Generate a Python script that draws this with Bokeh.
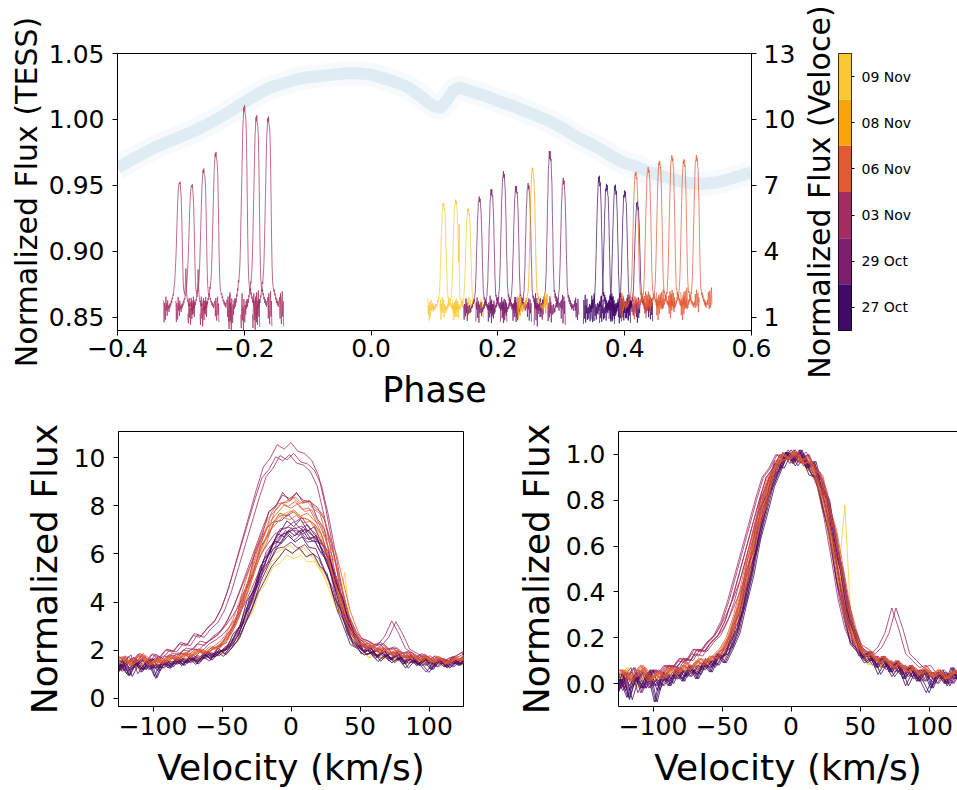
from bokeh.plotting import figure
from bokeh.models import Range1d, LinearAxis, FixedTicker
from bokeh.layouts import column, row
from bokeh.embed import file_html
from bokeh.resources import INLINE

FONT = "DejaVu Sans"

# ---------------- data ----------------
DATES = ["27 Oct", "29 Oct", "03 Nov", "06 Nov", "08 Nov", "09 Nov"]
DATE_COLORS = ["#420a68", "#7c1d6d", "#a52c60", "#e35933", "#fba40a", "#f8c932"]

TESS_PHASE = [-0.40, -0.38, -0.36, -0.34, -0.32, -0.30, -0.28, -0.26, -0.24, -0.22,
              -0.20, -0.18, -0.16, -0.14, -0.12, -0.10, -0.08, -0.06, -0.04, -0.02,
              0.00, 0.02, 0.04, 0.06, 0.08, 0.09, 0.10, 0.11, 0.12, 0.13, 0.14,
              0.16, 0.18, 0.20, 0.22, 0.24, 0.26, 0.28, 0.30, 0.32, 0.34, 0.36,
              0.38, 0.40, 0.42, 0.44, 0.46, 0.48, 0.50, 0.52, 0.54, 0.56, 0.58, 0.60]
TESS_FLUX = [0.963, 0.969, 0.974, 0.979, 0.983, 0.987, 0.991, 0.996, 1.001, 1.007,
             1.013, 1.019, 1.024, 1.027, 1.030, 1.032, 1.033, 1.034, 1.035, 1.035,
             1.034, 1.031, 1.028, 1.024, 1.017, 1.013, 1.010, 1.009, 1.015, 1.022, 1.024,
             1.021, 1.018, 1.014, 1.011, 1.007, 1.003, 0.999, 0.994, 0.988, 0.983, 0.978,
             0.972, 0.967, 0.964, 0.960, 0.957, 0.954, 0.952, 0.951, 0.952, 0.954, 0.957, 0.960]

# velocity grid of the line profiles (km/s)
VELOCITY = list(range(-200, 201, 5))

# normalised line profiles (two per night, one for the single 08 Nov spectrum)
PROFILE_27OCT_A = [0.07, -0.08, 0.11, -0.04, 0.02, -0.10, 0.08, 0.00, -0.06, 0.12, -0.09, 0.04, -0.02, 0.09, -0.07,
                   0.02, -0.06, 0.03, -0.02, 0.05, -0.08,
                   0.04, -0.01, 0.06, 0.01, 0.08, 0.02, 0.09, 0.05, 0.13, 0.09,
                   0.15, 0.22, 0.35, 0.47, 0.63, 0.74, 0.86, 0.93, 1.01,
                   0.97, 1.02, 0.94, 0.97, 0.86, 0.80, 0.60, 0.49, 0.28, 0.22,
                   0.11, 0.14, 0.07, 0.12, 0.05, 0.10, 0.02, 0.08, 0.01, 0.06, -0.02, 0.05, 0.00, 0.07, 0.01, 0.06,
                   -0.06, 0.10, 0.00, 0.13, -0.08, 0.06, 0.11, -0.04, 0.08, -0.10, 0.04, 0.12, -0.02, 0.08, -0.06]
PROFILE_27OCT_B = [-0.05, 0.09, -0.11, 0.03, 0.10, -0.07, 0.01, 0.12, -0.04, -0.09, 0.06, 0.02, -0.08, 0.11, 0.00,
                   -0.04, 0.05, -0.07, 0.03, -0.02, 0.06,
                   -0.03, 0.05, 0.00, 0.07, 0.03, 0.06, 0.04, 0.11, 0.07, 0.12,
                   0.13, 0.25, 0.31, 0.50, 0.58, 0.77, 0.83, 0.96, 0.94,
                   1.00, 0.95, 0.99, 0.91, 0.90, 0.77, 0.64, 0.45, 0.31, 0.17,
                   0.14, 0.09, 0.11, 0.04, 0.09, 0.03, 0.07, -0.01, 0.05, 0.02, -0.04, 0.03, 0.06, -0.01, 0.04, 0.02,
                   0.09, -0.05, 0.07, -0.10, 0.02, 0.11, -0.06, 0.05, -0.02, 0.10, -0.08, 0.03, 0.09, -0.04, 0.06]
PROFILE_29OCT_A = [-0.04, 0.08, 0.02, -0.07, 0.10, 0.04, -0.08, 0.06, 0.00, -0.05, 0.11, -0.02, 0.07, -0.09, 0.04,
                   0.04, -0.03, 0.01, 0.05, -0.02, 0.02,
                   -0.01, 0.04, 0.02, 0.06, 0.03, 0.08, 0.06, 0.10, 0.08, 0.14,
                   0.16, 0.27, 0.36, 0.53, 0.64, 0.81, 0.87, 0.97, 0.98,
                   1.02, 0.97, 1.00, 0.93, 0.89, 0.76, 0.65, 0.45, 0.33, 0.18,
                   0.15, 0.10, 0.12, 0.07, 0.10, 0.05, 0.08, 0.03, 0.06, 0.01, 0.05, 0.02, 0.04, 0.00, 0.05, 0.03,
                   0.08, 0.00, 0.10, -0.05, 0.06, 0.02, -0.07, 0.09, 0.03, -0.03, 0.11, -0.06, 0.04, 0.08, -0.01]
PROFILE_29OCT_B = [0.06, -0.07, 0.03, 0.10, -0.04, -0.09, 0.07, 0.01, 0.11, -0.06, 0.02, 0.08, -0.10, 0.05, -0.01,
                   -0.02, 0.03, 0.07, -0.04, 0.02, -0.01,
                   0.03, 0.01, 0.05, 0.02, 0.07, 0.04, 0.09, 0.07, 0.11, 0.12,
                   0.19, 0.24, 0.40, 0.49, 0.67, 0.76, 0.90, 0.93, 1.01,
                   0.96, 1.01, 0.95, 0.96, 0.86, 0.80, 0.61, 0.49, 0.29, 0.21,
                   0.12, 0.13, 0.08, 0.11, 0.06, 0.09, 0.04, 0.07, 0.02, 0.06, 0.03, 0.00, 0.05, 0.03, 0.02, 0.06,
                   -0.05, 0.07, 0.01, 0.10, -0.08, 0.04, 0.09, -0.02, 0.06, -0.09, 0.03, 0.11, -0.04, 0.02, 0.07]
PROFILE_03NOV_A = [0.04, -0.06, 0.10, 0.00, -0.05, 0.08, -0.09, 0.06, 0.02, -0.07, 0.11, 0.00, 0.06, -0.04, 0.08,
                   0.01, 0.04, -0.01, 0.05, 0.02, 0.06,
                   0.04, 0.08, 0.06, 0.10, 0.09, 0.13, 0.12, 0.17, 0.20, 0.24,
                   0.30, 0.37, 0.45, 0.56, 0.68, 0.80, 0.88, 0.95, 0.98,
                   1.00, 0.99, 1.01, 0.96, 0.92, 0.84, 0.70, 0.52, 0.36, 0.24,
                   0.17, 0.15, 0.13, 0.16, 0.22, 0.33, 0.24, 0.13, 0.10, 0.07, 0.08, 0.04, 0.06, 0.03, 0.05, 0.04,
                   0.04, 0.10, 0.00, 0.08, 0.05, -0.03, 0.11, 0.03, -0.05, 0.08, 0.02, 0.10, -0.02, 0.06, 0.03]
PROFILE_03NOV_B = [-0.03, 0.07, -0.08, 0.05, 0.10, -0.02, -0.09, 0.04, 0.09, -0.05, 0.02, -0.10, 0.06, 0.01, -0.06,
                   0.03, -0.02, 0.05, 0.01, 0.06, 0.02,
                   0.06, 0.04, 0.08, 0.07, 0.11, 0.10, 0.15, 0.14, 0.18, 0.21,
                   0.27, 0.36, 0.47, 0.58, 0.69, 0.80, 0.90, 0.94, 1.00,
                   0.98, 1.01, 0.97, 0.96, 0.93, 0.86, 0.72, 0.55, 0.37, 0.24,
                   0.17, 0.13, 0.12, 0.10, 0.11, 0.08, 0.09, 0.06, 0.07, 0.04, 0.06, 0.03, 0.05, 0.02, 0.04, 0.05,
                   0.07, -0.04, 0.09, 0.01, -0.07, 0.06, 0.10, -0.03, 0.05, -0.08, 0.08, 0.00, 0.11, -0.05, 0.04]
PROFILE_06NOV_A = [0.09, -0.04, 0.06, 0.12, -0.06, 0.04, 0.10, -0.02, 0.07, 0.13, -0.05, 0.05, 0.11, 0.00, 0.08,
                   0.03, 0.06, 0.01, 0.04, 0.07, 0.02,
                   0.05, 0.03, 0.07, 0.05, 0.09, 0.07, 0.11, 0.09, 0.12, 0.15,
                   0.20, 0.29, 0.41, 0.55, 0.68, 0.80, 0.90, 0.95, 1.00,
                   0.98, 1.01, 0.96, 0.97, 0.89, 0.79, 0.64, 0.48, 0.31, 0.21,
                   0.16, 0.12, 0.13, 0.09, 0.11, 0.07, 0.09, 0.05, 0.07, 0.04, 0.06, 0.03, 0.05, 0.02, 0.06, 0.04,
                   0.11, 0.02, 0.09, 0.14, 0.03, 0.07, 0.12, -0.01, 0.09, 0.05, 0.14, 0.03, 0.11, 0.01, 0.09]
PROFILE_06NOV_B = [0.02, 0.10, -0.05, 0.07, 0.01, 0.12, -0.03, 0.08, 0.04, -0.06, 0.10, 0.03, -0.02, 0.09, 0.05,
                   0.06, 0.02, 0.05, 0.08, 0.01, 0.04,
                   0.02, 0.07, 0.04, 0.08, 0.06, 0.10, 0.08, 0.12, 0.11, 0.16,
                   0.22, 0.31, 0.44, 0.57, 0.70, 0.79, 0.92, 0.97, 0.98,
                   1.01, 0.97, 0.99, 0.94, 0.91, 0.77, 0.67, 0.50, 0.33, 0.22,
                   0.14, 0.14, 0.10, 0.12, 0.08, 0.10, 0.06, 0.08, 0.04, 0.07, 0.03, 0.06, 0.02, 0.05, 0.04, 0.07,
                   0.04, 0.12, 0.06, 0.01, 0.13, 0.08, 0.02, 0.11, 0.15, 0.04, 0.09, 0.13, 0.02, 0.10, 0.06]
PROFILE_08NOV_A = [0.02, 0.10, -0.04, 0.06, 0.12, -0.02, 0.04, 0.10, -0.06, 0.08, 0.02, 0.12, -0.04, 0.06, 0.10,
                   0.00, 0.04, 0.02, -0.01, 0.05, 0.01,
                   0.03, 0.06, 0.02, 0.07, 0.05, 0.09, 0.06, 0.10, 0.12, 0.13,
                   0.18, 0.27, 0.39, 0.51, 0.66, 0.78, 0.89, 0.97, 0.99,
                   1.01, 0.98, 0.96, 0.94, 0.87, 0.77, 0.62, 0.46, 0.32, 0.19,
                   0.14, 0.11, 0.12, 0.08, 0.10, 0.06, 0.07, 0.05, 0.06, 0.02, 0.04, 0.03, 0.01, 0.04, 0.05, 0.02,
                   0.06, 0.12, 0.02, 0.08, -0.02, 0.10, 0.04, 0.12, 0.00, 0.06, 0.10, -0.04, 0.08, 0.04, 0.10]
PROFILE_09NOV_A = [0.08, -0.06, 0.04, 0.12, -0.04, 0.02, 0.10, -0.08, 0.06, 0.00, 0.12, -0.02, 0.04, 0.10, -0.06,
                   0.06, 0.01, 0.04, -0.02, 0.03, 0.00,
                   0.05, 0.02, 0.07, 0.03, 0.08, 0.05, 0.07, 0.11, 0.09, 0.12,
                   0.17, 0.25, 0.37, 0.50, 0.64, 0.77, 0.88, 0.94, 0.97,
                   1.00, 0.96, 0.99, 0.92, 0.86, 0.74, 0.60, 0.44, 0.78, 0.20,
                   0.13, 0.10, 0.11, 0.06, 0.09, 0.04, 0.08, 0.03, 0.05, 0.02, 0.06, 0.01, 0.04, 0.03, 0.06, 0.02,
                   0.10, 0.02, 0.08, -0.04, 0.12, 0.04, 0.06, -0.02, 0.10, 0.08, 0.00, 0.12, 0.04, -0.04, 0.06]
PROFILE_09NOV_B = [-0.05, 0.09, 0.01, -0.08, 0.07, 0.11, -0.03, 0.05, -0.09, 0.08, 0.02, -0.06, 0.10, 0.00, 0.06,
                   0.02, 0.07, -0.01, 0.05, 0.01, 0.04,
                   0.01, 0.06, 0.03, 0.05, 0.06, 0.04, 0.10, 0.08, 0.12, 0.11,
                   0.19, 0.23, 0.39, 0.48, 0.66, 0.75, 0.89, 0.92, 0.99,
                   0.96, 0.99, 0.93, 0.94, 0.84, 0.76, 0.57, 0.46, 0.30, 0.18,
                   0.15, 0.08, 0.12, 0.07, 0.08, 0.06, 0.04, 0.07, 0.02, 0.05, 0.03, 0.06, 0.00, 0.05, 0.02, 0.07,
                   -0.02, 0.08, 0.03, 0.11, -0.06, 0.05, 0.09, 0.00, -0.07, 0.06, 0.10, -0.03, 0.07, 0.02, 0.09]
PROFILES = {"27 Oct A": PROFILE_27OCT_A, "27 Oct B": PROFILE_27OCT_B,
            "29 Oct A": PROFILE_29OCT_A, "29 Oct B": PROFILE_29OCT_B,
            "03 Nov A": PROFILE_03NOV_A, "03 Nov B": PROFILE_03NOV_B,
            "06 Nov A": PROFILE_06NOV_A, "06 Nov B": PROFILE_06NOV_B,
            "08 Nov A": PROFILE_08NOV_A,
            "09 Nov A": PROFILE_09NOV_A, "09 Nov B": PROFILE_09NOV_B}
for _k, _p in PROFILES.items():
    assert len(_p) == len(VELOCITY), (_k, len(_p))

# individual Veloce spectra: night, profile, orbital phase, peak flux, small velocity offset
SPEC_DATE = ["03 Nov", "03 Nov", "03 Nov", "03 Nov", "03 Nov", "03 Nov", "03 Nov",
             "09 Nov", "09 Nov", "09 Nov",
             "29 Oct", "29 Oct", "29 Oct", "29 Oct", "29 Oct", "29 Oct", "29 Oct",
             "08 Nov",
             "27 Oct", "27 Oct", "27 Oct", "27 Oct", "27 Oct",
             "06 Nov", "06 Nov", "06 Nov", "06 Nov", "06 Nov", "06 Nov"]
SPEC_PROFILE = ["03 Nov A", "03 Nov A", "03 Nov B", "03 Nov B", "03 Nov B", "03 Nov B", "03 Nov B",
                "09 Nov B", "09 Nov A", "09 Nov B",
                "29 Oct A", "29 Oct B", "29 Oct A", "29 Oct B", "29 Oct A", "29 Oct B", "29 Oct A",
                "08 Nov A",
                "27 Oct A", "27 Oct B", "27 Oct A", "27 Oct B", "27 Oct A",
                "06 Nov A", "06 Nov B", "06 Nov A", "06 Nov B", "06 Nov A", "06 Nov B"]
SPEC_PHASE = [-0.3024, -0.2835, -0.2641, -0.2452, -0.1995, -0.1806, -0.1617,
              0.1139, 0.1334, 0.1528,
              0.1706, 0.1894, 0.2090, 0.2283, 0.2472, 0.2819, 0.3028,
              0.2546,
              0.3591, 0.3712, 0.3843, 0.4000, 0.4194,
              0.4173, 0.4367, 0.4546, 0.4740, 0.4934, 0.5129]
SPEC_PEAK = [7.11, 6.99, 7.70, 8.45, 10.55, 10.10, 10.05,
             6.25, 6.35, 5.99,
             6.39, 6.77, 7.52, 6.92, 6.99, 8.49, 7.22,
             7.74,
             7.32, 7.07, 6.92, 6.77, 6.17,
             7.55, 7.77, 8.04, 8.31, 8.12, 8.31]
SPEC_VSHIFT = [-2, 1, -3, -1, -5, -3, -6,
               1, -1, 2,
               0, 2, -2, 1, 3, -1, 2,
               0,
               2, 0, 3, -2, 1,
               -1, 2, 0, 3, -2, 1]
BASELINE = 1.3           # continuum level of the Veloce spectra
PHASE_PER_KMS = 1.4e-4   # horizontal scale of the spectra drawn in the phase panel
TOP_VMAX = 175           # velocity half-range shown for each spectrum in the phase panel

TOP_X_TICKS = [-0.4, -0.2, 0.0, 0.2, 0.4, 0.6]
TOP_X_LABELS = ["\u22120.4", "\u22120.2", "0.0", "0.2", "0.4", "0.6"]
TESS_TICKS = [0.85, 0.90, 0.95, 1.00, 1.05]
TESS_LABELS = ["0.85", "0.90", "0.95", "1.00", "1.05"]
VELOCE_TICKS = [1, 4, 7, 10, 13]
VELOCE_LABELS = ["1", "4", "7", "10", "13"]
VEL_TICKS = [-100, -50, 0, 50, 100]
VEL_LABELS = ["\u2212100", "\u221250", "0", "50", "100"]
FLUX_TICKS = [0, 2, 4, 6, 8, 10]
FLUX_LABELS = ["0", "2", "4", "6", "8", "10"]
NORM_TICKS = [0.0, 0.2, 0.4, 0.6, 0.8, 1.0]
NORM_LABELS = ["0.0", "0.2", "0.4", "0.6", "0.8", "1.0"]


def color_of(d):
    return DATE_COLORS[DATES.index(d)]


def style_axis(ax, ticks, labels, tick_size="25px", label_size="30px", standoff=8, label_standoff=4):
    ax.ticker = FixedTicker(ticks=ticks)
    ax.major_label_overrides = dict(zip(ticks, labels))
    ax.major_label_text_font = FONT
    ax.axis_label_text_font = FONT
    ax.axis_label_text_font_style = "normal"
    ax.major_label_text_font_size = tick_size
    ax.axis_label_text_font_size = label_size
    ax.major_label_text_color = "black"
    ax.axis_label_text_color = "black"
    ax.major_tick_in = 0
    ax.major_tick_out = 5
    ax.major_tick_line_color = "black"
    ax.minor_tick_line_color = None
    ax.axis_line_color = "black"
    ax.major_label_standoff = standoff
    ax.axis_label_standoff = label_standoff


def base_fig(**kw):
    p = figure(output_backend="svg", toolbar_location=None, **kw)
    p.grid.visible = False
    p.outline_line_color = "black"
    p.outline_line_alpha = 1
    p.background_fill_color = "white"
    p.border_fill_color = "white"
    return p


# ---------------- top panel ----------------
top = base_fig(width=798, height=412, x_range=Range1d(-0.4, 0.6), y_range=Range1d(0.84, 1.05),
               min_border_left=117, min_border_right=46, min_border_top=53, min_border_bottom=79)
top.extra_y_ranges = {"veloce": Range1d(0.4, 13)}

top.line(TESS_PHASE, TESS_FLUX, line_width=24, color="#1f77b4", alpha=0.04, line_join="round")
top.line(TESS_PHASE, TESS_FLUX, line_width=12, color="#1f77b4", alpha=0.10, line_join="round")

for d, name, ph, pk, dv in zip(SPEC_DATE, SPEC_PROFILE, SPEC_PHASE, SPEC_PEAK, SPEC_VSHIFT):
    prof = PROFILES[name]
    pts = [(v, s) for v, s in zip(VELOCITY, prof) if abs(v) <= TOP_VMAX]
    xs = [ph + (v + dv) * PHASE_PER_KMS for v, s in pts]
    ys = [BASELINE + (pk - BASELINE) * s for v, s in pts]
    top.line(xs, ys, y_range_name="veloce", color=color_of(d), line_width=1, alpha=0.7)

xax = top.below[0]
style_axis(xax, TOP_X_TICKS, TOP_X_LABELS, label_size="35px", standoff=3, label_standoff=10)
xax.axis_label = "Phase"
lax = top.left[0]
style_axis(lax, TESS_TICKS, TESS_LABELS, standoff=8, label_standoff=2)
lax.axis_label = "Normalized Flux (TESS)"
rax = LinearAxis(y_range_name="veloce")
style_axis(rax, VELOCE_TICKS, VELOCE_LABELS, standoff=7)
top.add_layout(rax, "right")

# ---------------- colour bar (carries the Veloce axis title on its left) ----------------
cb = base_fig(width=159, height=412, x_range=Range1d(0, 1), y_range=Range1d(-0.5, 5.5),
              x_axis_location=None, y_axis_location=None,
              min_border_left=39, min_border_right=106, min_border_top=53, min_border_bottom=79)
cb.quad(left=[0] * len(DATES), right=[1] * len(DATES),
        bottom=[i - 0.5 for i in range(len(DATES))], top=[i + 0.5 for i in range(len(DATES))],
        fill_color=DATE_COLORS, line_color=None)
title_ax = LinearAxis(axis_label="Normalized Flux (Veloce)")
style_axis(title_ax, [], [], standoff=0, label_standoff=2)
title_ax.major_tick_out = 0
title_ax.axis_line_color = None
cb.add_layout(title_ax, "left")
cax = LinearAxis()
style_axis(cax, list(range(len(DATES))), DATES, tick_size="14px", standoff=7)
cax.major_tick_out = 3
cax.axis_line_color = None
cb.add_layout(cax, "right")

# ---------------- lower panels ----------------
bl = base_fig(width=508, height=378, x_range=Range1d(-125, 125), y_range=Range1d(-0.35, 11.1),
              min_border_left=118, min_border_right=45, min_border_top=19, min_border_bottom=80)
br = base_fig(width=449, height=378, x_range=Range1d(-125, 120.6), y_range=Range1d(-0.1, 1.1),
              min_border_left=110, min_border_right=0, min_border_top=19, min_border_bottom=80)

for d, name, pk, dv in zip(SPEC_DATE, SPEC_PROFILE, SPEC_PEAK, SPEC_VSHIFT):
    prof = PROFILES[name]
    xs = [v + dv for v in VELOCITY]
    bl.line(xs, [BASELINE + (pk - BASELINE) * s for s in prof], color=color_of(d), line_width=1, alpha=0.8)
    br.line(xs, prof, color=color_of(d), line_width=1, alpha=0.8)

for p, yt, yl in ((bl, FLUX_TICKS, FLUX_LABELS), (br, NORM_TICKS, NORM_LABELS)):
    style_axis(p.below[0], VEL_TICKS, VEL_LABELS, label_size="36px", standoff=5, label_standoff=9)
    p.below[0].axis_label = "Velocity (km/s)"
    style_axis(p.left[0], yt, yl, label_size="36px", standoff=8, label_standoff=6)
    p.left[0].axis_label = "Normalized Flux"

br.outline_line_color = None
spine = LinearAxis(ticker=FixedTicker(ticks=[]), axis_line_color="black",
                   major_tick_line_color=None, minor_tick_line_color=None,
                   major_label_text_font_size="0px")
br.add_layout(spine, "above")

layout = column(row(top, cb), row(bl, br))
open("out.html", "w").write(file_html(layout, INLINE))
